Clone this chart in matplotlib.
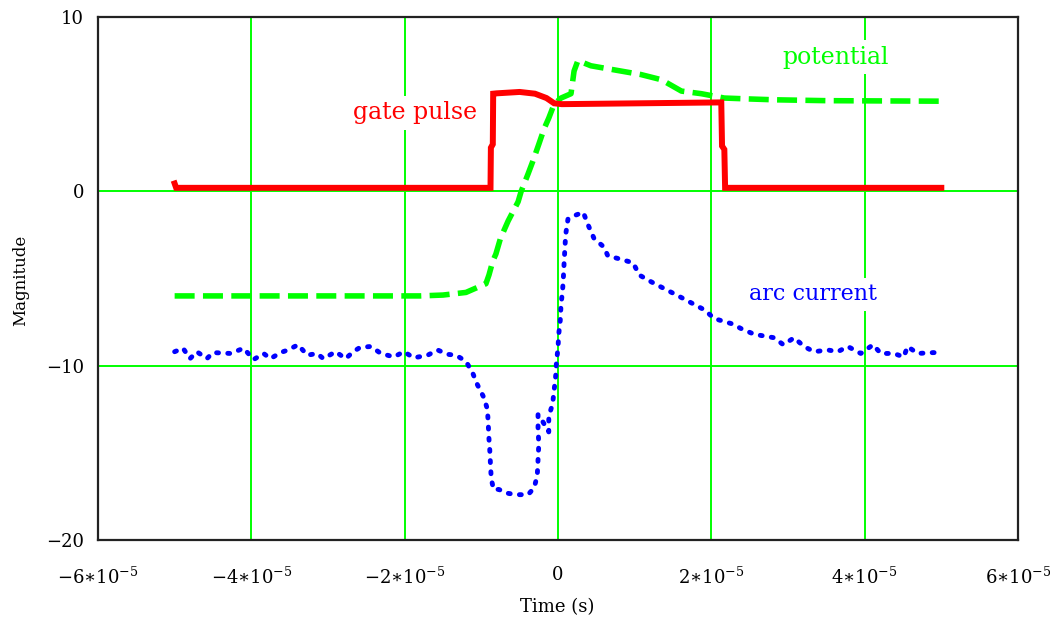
import numpy as np
import matplotlib
matplotlib.use('Agg')
import matplotlib.pyplot as plt

plt.rcParams['font.family'] = 'DejaVu Serif'
plt.rcParams['mathtext.fontset'] = 'dejavuserif'

# time axis values are in units of 1e-5 s
scale = 1e-5

# gate pulse
gate_t = [-5.0, -4.98, -0.88, -0.875, -0.85, -0.845, -0.8, -0.5, -0.3, -0.15,
          -0.05, 0.05, 2.13, 2.14, 2.17, 2.18, 5.0]
gate_v = [0.45, 0.2, 0.2, 2.5, 2.7, 5.6, 5.62, 5.7, 5.6, 5.35,
          5.05, 5.0, 5.1, 2.6, 2.4, 0.2, 0.2]

# potential
pot_t = [-5.0, -3.0, -1.8, -1.5, -1.2, -0.94, -0.90, -0.85, -0.81, -0.75,
         -0.65, -0.52, -0.48, -0.39, -0.33, -0.25, -0.18, -0.12, -0.05, 0.04,
         0.17, 0.21, 0.26, 0.43, 0.69, 1.08, 1.35, 1.61, 1.87, 2.17,
         2.48, 2.82, 3.5, 5.0]
pot_v = [-6.0, -6.0, -6.0, -5.95, -5.8, -5.3, -4.8, -4.0, -3.6, -2.7,
         -1.7, -0.6, 0.0, 1.0, 1.7, 2.7, 3.6, 4.2, 5.0, 5.35,
         5.6, 6.9, 7.5, 7.2, 7.0, 6.7, 6.4, 5.75, 5.6, 5.35,
         5.3, 5.25, 5.2, 5.17]

# arc current
arc_t = [-5.0, -4.89, -4.80, -4.71, -4.58, -4.50, -4.27, -4.10, -3.97, -3.84,
         -3.75, -3.62, -3.52, -3.39, -3.27, -3.14, -3.06, -2.90, -2.77, -2.67,
         -2.58, -2.44, -2.31, -2.14, -2.01, -1.88, -1.70, -1.57, -1.44, -1.33,
         -1.20, -1.11, -1.05, -0.97, -0.92, -0.91, -0.90, -0.89, -0.88, -0.87,
         -0.84, -0.77, -0.68, -0.55, -0.39, -0.31, -0.27, -0.26, -0.25, -0.26,
         -0.26, -0.20, -0.12, -0.12, -0.07, -0.05, -0.03, -0.02, 0.0, 0.01,
         0.03, 0.04, 0.06, 0.07, 0.08, 0.09, 0.10, 0.13, 0.21, 0.33,
         0.39, 0.47, 0.60, 0.65, 0.78, 0.98, 1.06, 1.22, 1.35, 1.57,
         1.74, 1.91, 2.04, 2.27, 2.40, 2.56, 2.82, 2.94, 3.08, 3.21,
         3.34, 3.52, 3.65, 3.78, 3.95, 4.11, 4.21, 4.38, 4.51, 4.56,
         4.69, 4.90, 5.0]
arc_v = [-9.2, -9.0, -9.6, -9.2, -9.6, -9.25, -9.3, -9.0, -9.65, -9.3,
         -9.6, -9.25, -9.1, -8.8, -9.4, -9.3, -9.6, -9.2, -9.6, -9.2,
         -8.95, -8.9, -9.3, -9.5, -9.2, -9.55, -9.4, -9.1, -9.35, -9.4,
         -9.75, -10.45, -11.1, -11.8, -12.5, -13.3, -14.2, -14.8, -15.7, -16.5,
         -17.1, -17.1, -17.3, -17.4, -17.4, -17.0, -16.3, -15.4, -14.5, -13.6,
         -12.8, -13.2, -13.8, -12.9, -12.2, -11.4, -10.6, -9.8, -9.0, -8.2,
         -7.4, -6.5, -5.7, -5.0, -4.1, -3.3, -2.5, -1.6, -1.4, -1.2,
         -1.9, -2.7, -3.2, -3.7, -3.85, -4.1, -4.8, -5.2, -5.5, -6.0,
         -6.4, -6.8, -7.3, -7.6, -7.9, -8.2, -8.4, -8.8, -8.4, -8.9,
         -9.2, -9.1, -9.2, -8.9, -9.3, -8.8, -9.3, -9.3, -9.5, -8.9,
         -9.3, -9.25, -9.3]

xticks = [-6, -4, -2, 0, 2, 4, 6]
xtick_labels = [r'$-6{\ast}10^{-5}$', r'$-4{\ast}10^{-5}$', r'$-2{\ast}10^{-5}$', '0',
                r'$2{\ast}10^{-5}$', r'$4{\ast}10^{-5}$', r'$6{\ast}10^{-5}$']
yticks = [-20, -10, 0, 10]

fig = plt.figure(figsize=(10.5, 6.29), dpi=100)
ax = fig.add_axes([0.0933, 0.1415, 0.8762, 0.8315])

red = '#ff0000'
green = '#00ff00'
blue = '#0000ff'

ax.plot(np.array(pot_t) * scale, pot_v, color=green, lw=4.0,
        dashes=(3.6, 1.5), zorder=3)
ax.plot(np.array(arc_t) * scale, arc_v, color=blue, lw=3.5,
        dashes=(0.4, 1.9), dash_capstyle='round', zorder=3)
ax.plot(np.array(gate_t) * scale, gate_v, color=red, lw=4.3,
        solid_joinstyle='miter', zorder=4)

ax.set_xlim(-6 * scale, 6 * scale)
ax.set_ylim(-20, 10)
ax.set_xticks(np.array(xticks) * scale)
ax.set_xticklabels(xtick_labels)
ax.set_yticks(yticks)
ax.set_yticklabels(['\u221220', '\u221210', '0', '10'])
ax.tick_params(length=0, labelsize=13)
ax.tick_params(axis='x', pad=19)
ax.tick_params(axis='y', pad=10)
ax.grid(True, color=green, lw=1.4, zorder=0)
ax.set_axisbelow(True)
for s in ax.spines.values():
    s.set_linewidth(1.6)
    s.set_color('#222222')

box = dict(facecolor='white', edgecolor='none', pad=4)
ax.text(-1.86 * scale, 4.5, 'gate pulse', color=red, fontsize=17,
        ha='center', va='center', bbox=box, zorder=5)
ax.text(3.62 * scale, 7.7, 'potential', color=green, fontsize=17,
        ha='center', va='center', bbox=box, zorder=5)
ax.text(3.33 * scale, -5.9, 'arc current', color=blue, fontsize=16,
        ha='center', va='center', bbox=box, zorder=5)

fig.text(557 / 1050, 1 - 607 / 629, 'Time (s)', fontsize=13,
         ha='center', va='center')
fig.text(21 / 1050, 1 - 280 / 629, 'Magnitude', fontsize=12,
         ha='center', va='center', rotation=90)

fig.savefig('out.png', dpi=100)
